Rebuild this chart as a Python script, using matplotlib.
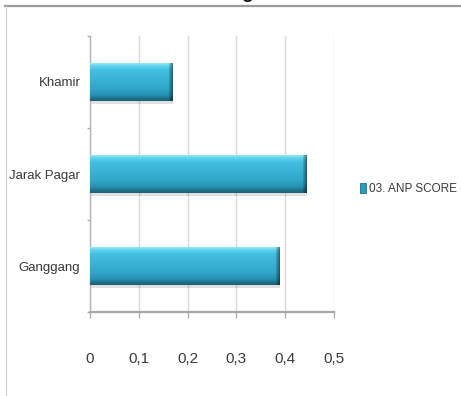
import numpy as np
import matplotlib
matplotlib.use("Agg")
import matplotlib.pyplot as plt
from matplotlib.lines import Line2D
from matplotlib.colors import to_rgb

plt.rcParams['font.family'] = ['Liberation Sans', 'DejaVu Sans']

categories = ['Ganggang', 'Jarak Pagar', 'Khamir']
scores = [0.388, 0.443, 0.169]
series_name = '03. ANP SCORE'
xticks = [0, 0.1, 0.2, 0.3, 0.4, 0.5]
xtick_labels = ['0', '0,1', '0,2', '0,3', '0,4', '0,5']

W, H = 461, 396
fig = plt.figure(figsize=(W / 100, H / 100), dpi=100)
ax = fig.add_axes([90 / W, 84 / H, 244 / W, 276 / H])

y = np.arange(len(categories))
bar_h = 0.41

# soft drop shadow under each bar
ax.barh(y - 0.035, scores, height=bar_h, left=0.002, color='#000000',
        alpha=0.12, zorder=2, linewidth=0)
bars = ax.barh(y, scores, height=bar_h, color='#34aed0', zorder=3,
               linewidth=0, label=series_name)

# vertical shading: light rim on top, darker base
stops = [(0.00, '#8fe8f8'), (0.07, '#62d4ee'), (0.18, '#43bfe0'),
         (0.68, '#30a6c8'), (0.85, '#2590b0'), (0.92, '#1f7590'),
         (1.00, '#1a6174')]
rows = 60
pos = np.linspace(0, 1, rows)
cols_rgb = np.array([to_rgb(c) for _, c in stops])
spos = np.array([p for p, _ in stops])
vgrad = np.stack([np.interp(pos, spos, cols_rgb[:, k]) for k in range(3)], axis=-1)

px_per_unit = 488.0
for bar in bars:
    x0, y0 = bar.get_x(), bar.get_y()
    w, h = bar.get_width(), bar.get_height()
    ncol = max(int(w * px_per_unit), 4)
    img = np.repeat(vgrad[:, None, :], ncol, axis=1)
    # bevelled right end
    shade = np.ones(ncol)
    shade[-4:] = [0.85, 0.75, 0.65, 0.55]
    img = img * shade[None, :, None]
    im = ax.imshow(img, extent=(x0, x0 + w, y0, y0 + h), aspect='auto',
                   origin='upper', zorder=3, interpolation='bilinear')
    im.set_clip_path(bar)

ax.set_xlim(0, 0.5)
ax.set_ylim(-0.5, 2.5)

ax.set_xticks(xticks)
ax.set_xticklabels(xtick_labels, fontsize=11, color='#3a3a3a')
ax.set_yticks(y)
ax.set_yticklabels(categories, fontsize=9.5, color='#3a3a3a')
ax.set_yticks([-0.5, 0.5, 1.5, 2.5], minor=True)

ax.tick_params(axis='x', direction='out', length=4.5, width=1,
               color='#b0b0b0', pad=24)
ax.tick_params(axis='y', which='major', length=0, pad=7)
ax.tick_params(axis='y', which='minor', direction='out', length=2.5,
               width=1, color='#b0b0b0')

ax.grid(axis='x', color='#d9d9d9', linewidth=1, zorder=0)
ax.set_axisbelow(True)
for side in ('top', 'right'):
    ax.spines[side].set_visible(False)
ax.spines['left'].set_color('#b5b5b5')
ax.spines['left'].set_linewidth(1)
ax.spines['bottom'].set_color('#a8a8a8')
ax.spines['bottom'].set_linewidth(1.6)

leg = ax.legend(loc='center left', bbox_to_anchor=(360 / W, 207 / H),
                bbox_transform=fig.transFigure, frameon=False,
                fontsize=8.5, handlelength=0.5, handleheight=1.0,
                handletextpad=0.3, borderpad=0, borderaxespad=0)
for t in leg.get_texts():
    t.set_color('#3a3a3a')
for hnd in leg.legend_handles:
    hnd.set_facecolor('#2a9cc0')
    hnd.set_edgecolor('#1d6f86')
    hnd.set_linewidth(0.6)

# frame of the chart area and the cut-off title above it
fig.add_artist(Line2D([5 / W, 1], [1 - 5.5 / H] * 2, transform=fig.transFigure,
                      color='#9a9a9a', linewidth=1.6))
fig.add_artist(Line2D([5.5 / W] * 2, [0, 1 - 6 / H], transform=fig.transFigure,
                      color='#d0d0d0', linewidth=0.8))
fig.text(247 / W, 1 + 2.0 / H, 'g', fontsize=14, fontweight='bold',
         color='#111111', ha='center', va='baseline')

fig.savefig('out.png', dpi=100)
